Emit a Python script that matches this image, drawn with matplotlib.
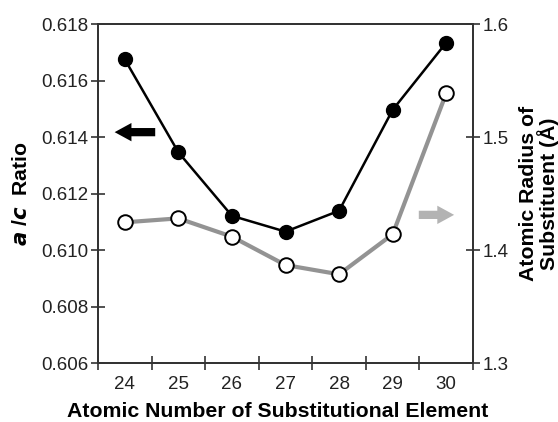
import matplotlib
matplotlib.use("Agg")
import matplotlib.pyplot as plt
from matplotlib.ticker import FixedLocator, NullFormatter, FormatStrFormatter

plt.rcParams['font.family'] = ['Liberation Sans', 'DejaVu Sans']

atomic_numbers = [24, 25, 26, 27, 28, 29, 30]
ac_ratio = [0.61675, 0.61346, 0.61121, 0.61065, 0.61139, 0.61496, 0.61734]
atomic_radius = [1.4245, 1.4280, 1.4118, 1.3867, 1.3785, 1.4139, 1.5387]
left_ticks = [0.606, 0.608, 0.610, 0.612, 0.614, 0.616, 0.618]
right_ticks = [1.3, 1.4, 1.5, 1.6]

fig = plt.figure(figsize=(5.58, 4.22), dpi=100)
ax = fig.add_axes([0.1756, 0.1398, 0.6721, 0.8033])
ax2 = ax.twinx()

spine_color = '#333333'
for a in (ax, ax2):
    for s in a.spines.values():
        s.set_color(spine_color)
        s.set_linewidth(1.3)

# a/c ratio on the left axis
ax.plot(atomic_numbers, ac_ratio, color='black', lw=1.8, marker='o',
        markersize=10, markerfacecolor='black', markeredgecolor='black', zorder=3)

# atomic radius on the right axis
ax2.plot(atomic_numbers, atomic_radius, color='#939393', lw=3.0, zorder=2)
ax2.plot(atomic_numbers, atomic_radius, linestyle='none', marker='o',
         markersize=10.5, markerfacecolor='white', markeredgecolor='black',
         markeredgewidth=1.4, zorder=3)

ax.set_xlim(23.5, 30.5)
ax.set_ylim(0.606, 0.618)
ax2.set_ylim(1.3, 1.6)

label_size = 13.5
title_size = 15.3
text_color = '#222222'

# tick marks between categories, labels at the category centres
ax.xaxis.set_major_locator(FixedLocator([x + 0.5 for x in range(23, 31)]))
ax.xaxis.set_major_formatter(NullFormatter())
ax.xaxis.set_minor_locator(FixedLocator(atomic_numbers))
ax.set_xticklabels([str(v) for v in atomic_numbers], minor=True)
ax.tick_params(axis='x', which='major', direction='inout', length=10,
               width=1.2, color=spine_color)
ax.tick_params(axis='x', which='minor', length=0, pad=9, labelsize=label_size,
               labelcolor=text_color)

ax.set_yticks(left_ticks)
ax.yaxis.set_major_formatter(FormatStrFormatter('%.3f'))
ax.tick_params(axis='y', direction='inout', length=10, width=1.2,
               color=spine_color, labelsize=label_size, labelcolor=text_color, pad=2)

ax2.set_yticks(right_ticks)
ax2.yaxis.set_major_formatter(FormatStrFormatter('%.1f'))
ax2.tick_params(axis='y', direction='inout', length=10, width=1.2,
                color=spine_color, labelsize=label_size, labelcolor=text_color, pad=2)

ax.set_xlabel('Atomic Number of Substitutional Element', fontsize=title_size,
              fontweight='bold')
ax.xaxis.set_label_coords(0.48, -0.115)
ax.set_ylabel(r'$\mathbfit{a}$ /$\mathbfit{c}$  Ratio', fontsize=title_size,
              fontweight='bold', labelpad=7)
ax2.set_ylabel('Atomic Radius of\nSubstituent (Å)', fontsize=title_size,
               fontweight='bold', labelpad=7, linespacing=0.95)

# arrows pointing to the axis each series belongs to
arrow_style = 'simple,head_length=0.55,head_width=0.6,tail_width=0.27'
ax.annotate('', xy=(0.037, 0.681), xytext=(0.16, 0.681),
            xycoords='axes fraction', textcoords='axes fraction',
            arrowprops=dict(arrowstyle=arrow_style, mutation_scale=22,
                            color='black', lw=0))
ax.annotate('', xy=(0.957, 0.437), xytext=(0.848, 0.437),
            xycoords='axes fraction', textcoords='axes fraction',
            arrowprops=dict(arrowstyle=arrow_style, mutation_scale=22,
                            color='#b3b3b3', lw=0))

fig.savefig('out.png', dpi=100)
